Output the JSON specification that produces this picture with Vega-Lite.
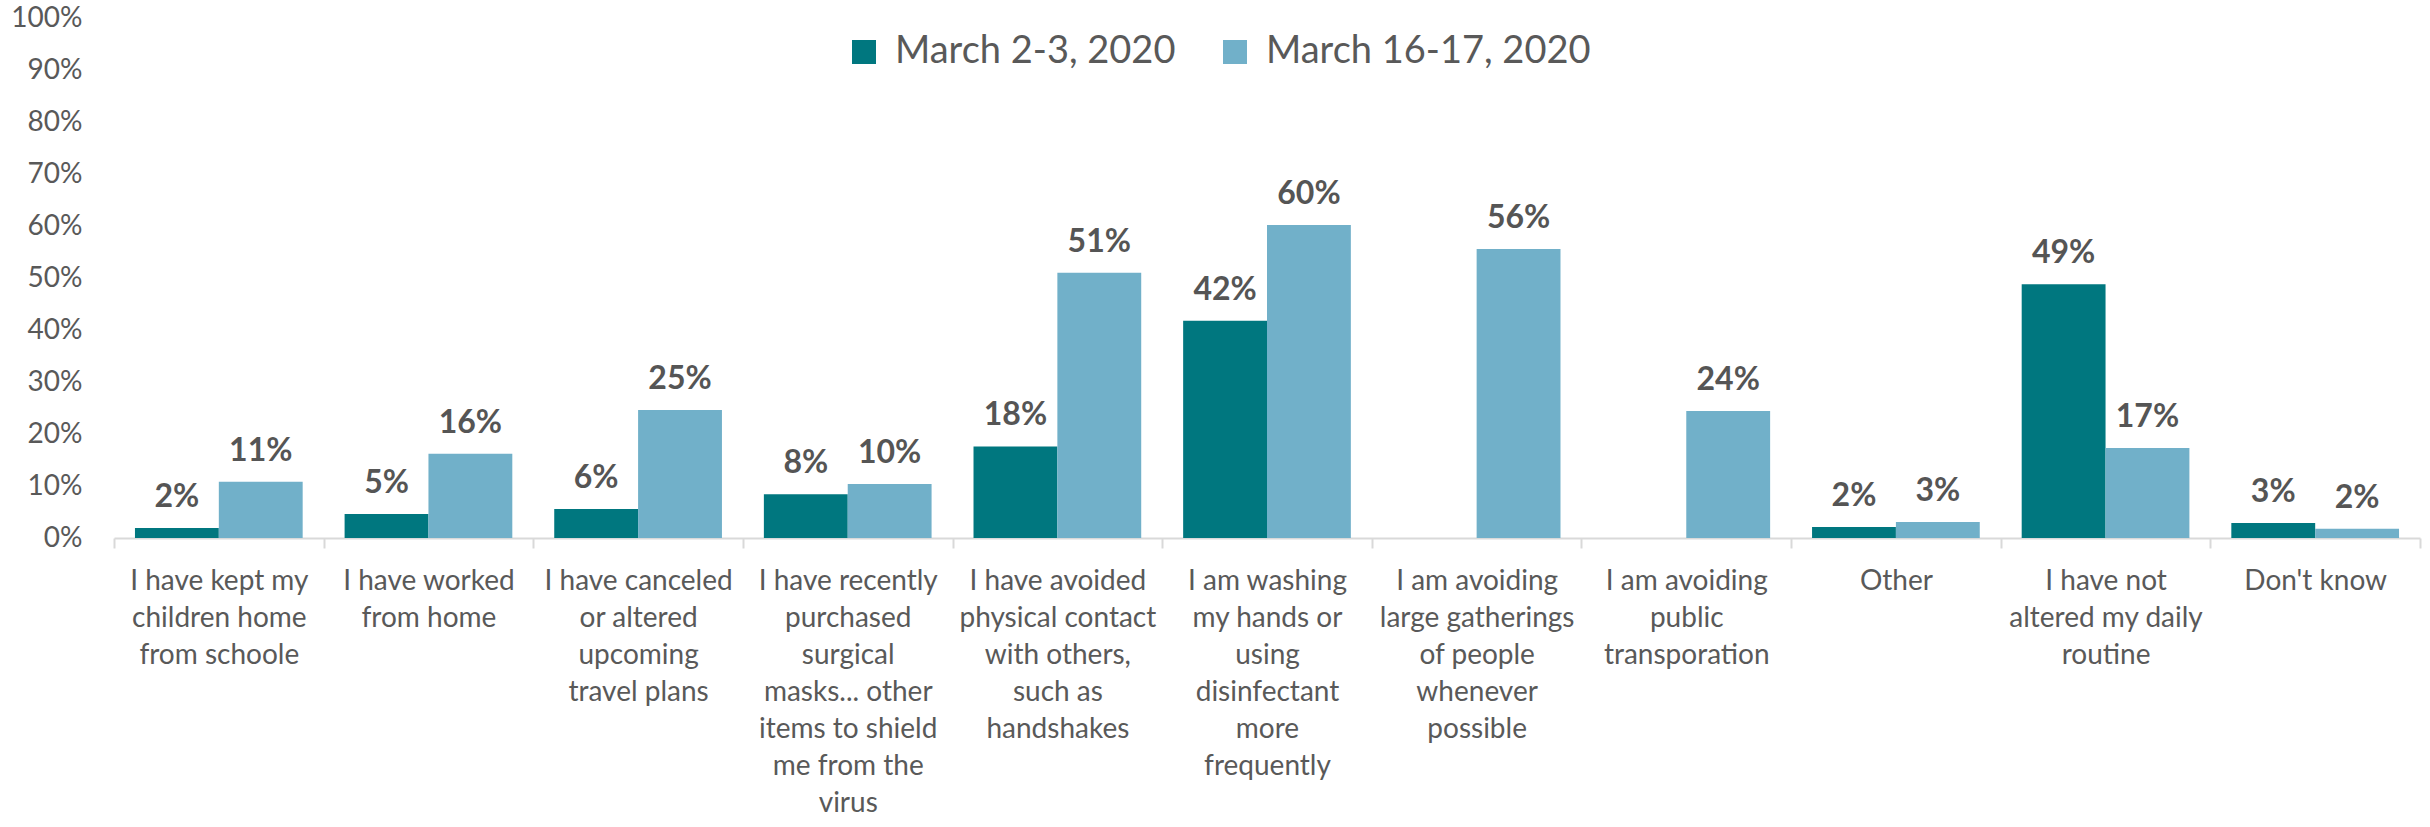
{
  "$schema": "https://vega.github.io/schema/vega-lite/v6.json",
  "width": 2306,
  "height": 520,
  "autosize": {"type": "none"},
  "padding": {"left": 114, "top": 18, "right": 10, "bottom": 289},
  "background": "white",
  "config": {"view": {"stroke": null}, "font": "Lato"},
  "data": {
    "values": [
      {"category": "I have kept my|children home|from schoole", "period": "March 2-3, 2020", "share": 0.019},
      {"category": "I have kept my|children home|from schoole", "period": "March 16-17, 2020", "share": 0.108},
      {"category": "I have worked|from home", "period": "March 2-3, 2020", "share": 0.046},
      {"category": "I have worked|from home", "period": "March 16-17, 2020", "share": 0.162},
      {"category": "I have canceled|or altered|upcoming|travel plans", "period": "March 2-3, 2020", "share": 0.056},
      {"category": "I have canceled|or altered|upcoming|travel plans", "period": "March 16-17, 2020", "share": 0.246},
      {"category": "I have recently|purchased|surgical|masks... other|items to shield|me from the|virus", "period": "March 2-3, 2020", "share": 0.084},
      {"category": "I have recently|purchased|surgical|masks... other|items to shield|me from the|virus", "period": "March 16-17, 2020", "share": 0.104},
      {"category": "I have avoided|physical contact|with others,|such as|handshakes", "period": "March 2-3, 2020", "share": 0.176},
      {"category": "I have avoided|physical contact|with others,|such as|handshakes", "period": "March 16-17, 2020", "share": 0.51},
      {"category": "I am washing|my hands or|using|disinfectant|more|frequently", "period": "March 2-3, 2020", "share": 0.418},
      {"category": "I am washing|my hands or|using|disinfectant|more|frequently", "period": "March 16-17, 2020", "share": 0.602},
      {"category": "I am avoiding|large gatherings|of people|whenever|possible", "period": "March 16-17, 2020", "share": 0.556},
      {"category": "I am avoiding|public|transporation", "period": "March 16-17, 2020", "share": 0.244},
      {"category": "Other", "period": "March 2-3, 2020", "share": 0.021},
      {"category": "Other", "period": "March 16-17, 2020", "share": 0.031},
      {"category": "I have not|altered my daily|routine", "period": "March 2-3, 2020", "share": 0.488},
      {"category": "I have not|altered my daily|routine", "period": "March 16-17, 2020", "share": 0.173},
      {"category": "Don't know", "period": "March 2-3, 2020", "share": 0.029},
      {"category": "Don't know", "period": "March 16-17, 2020", "share": 0.018}
    ]
  },
  "encoding": {
    "x": {
      "field": "category",
      "type": "nominal",
      "sort": null,
      "scale": {"paddingInner": 0, "paddingOuter": 0},
      "axis": {
        "title": null,
        "labelAngle": 0,
        "labelExpr": "isString(datum.value) ? split(datum.value, '|') : ''",
        "labelFont": "Lato",
        "labelFontSize": 28,
        "labelLineHeight": 37,
        "labelColor": "#595959",
        "labelLimit": 0,
        "labelOverlap": false,
        "labelBaseline": "top",
        "labelPadding": 19,
        "tickBand": "extent",
        "tickSize": 10,
        "tickColor": "#d9d9d9",
        "tickWidth": 2,
        "domainColor": "#d9d9d9",
        "domainWidth": 2
      }
    },
    "xOffset": {
      "field": "period",
      "type": "nominal",
      "sort": ["March 2-3, 2020", "March 16-17, 2020"],
      "scale": {"paddingInner": 0, "paddingOuter": 0.25}
    },
    "y": {
      "field": "share",
      "type": "quantitative",
      "scale": {"domain": [0, 1], "nice": false},
      "axis": {
        "title": null,
        "format": ".0%",
        "values": [0, 0.1, 0.2, 0.3, 0.4, 0.5, 0.6, 0.7, 0.8, 0.9, 1],
        "domain": false,
        "ticks": false,
        "grid": false,
        "labelFont": "Lato",
        "labelFontSize": 28,
        "labelColor": "#595959",
        "labelPadding": 32
      }
    }
  },
  "layer": [
    {
      "mark": {"type": "bar"},
      "encoding": {
        "color": {
          "field": "period",
          "type": "nominal",
          "scale": {
            "domain": ["March 2-3, 2020", "March 16-17, 2020"],
            "range": ["#00777F", "#71B0C9"]
          },
          "legend": {
            "title": null,
            "orient": "none",
            "legendX": 731,
            "legendY": 15,
            "direction": "horizontal",
            "symbolType": "square",
            "symbolSize": 576,
            "symbolStrokeWidth": 0,
            "labelFont": "Lato",
            "labelFontSize": 38,
            "labelColor": "#595959",
            "labelOffset": 12,
            "columnPadding": 40,
            "labelLimit": 0
          }
        }
      }
    },
    {
      "mark": {
        "type": "text",
        "baseline": "alphabetic",
        "dy": -21,
        "fontSize": 32,
        "fontWeight": "bold",
        "font": "Lato",
        "color": "#555555"
      },
      "encoding": {
        "text": {"field": "share", "type": "quantitative", "format": ".0%"}
      }
    }
  ]
}
